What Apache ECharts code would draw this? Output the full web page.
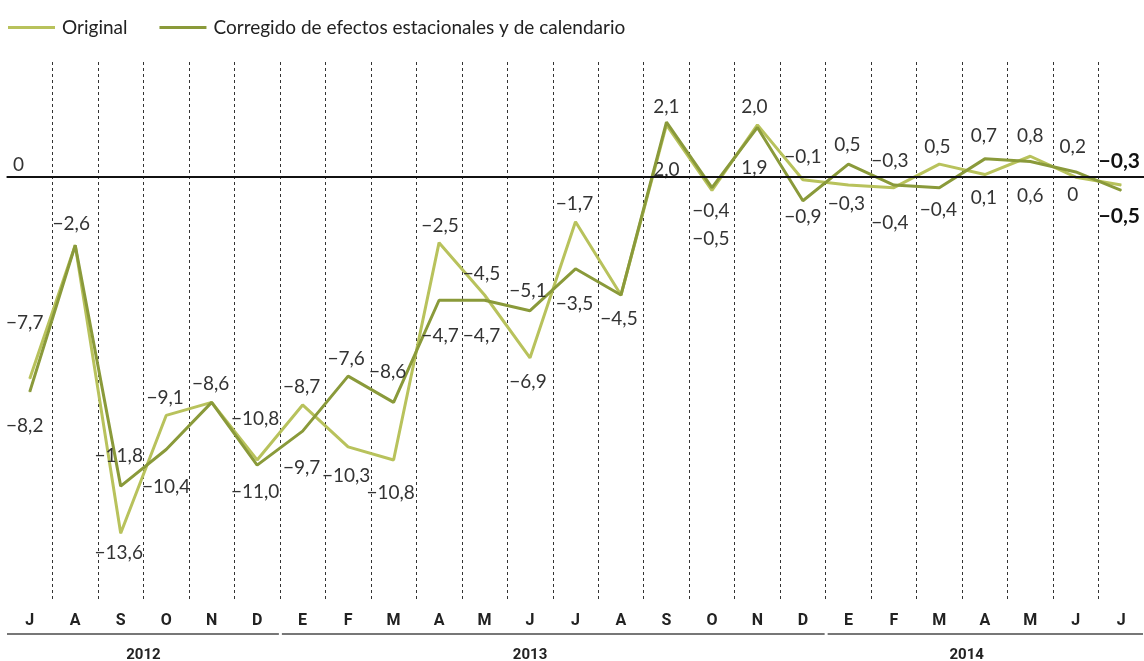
<!DOCTYPE html>
<html>
<head>
<meta charset="utf-8">
<script src="https://cdn.jsdelivr.net/npm/echarts@6/dist/echarts.min.js"></script>
<style>
html,body{margin:0;padding:0;background:#fff;}
#c{width:1144px;height:661px;}
</style>
</head>
<body>
<div id="c"></div>
<script>
// ---- data ----
const categories = ['Jul 2012','Ago 2012','Sep 2012','Oct 2012','Nov 2012','Dic 2012',
  'Ene 2013','Feb 2013','Mar 2013','Abr 2013','May 2013','Jun 2013','Jul 2013','Ago 2013','Sep 2013','Oct 2013','Nov 2013','Dic 2013',
  'Ene 2014','Feb 2014','Mar 2014','Abr 2014','May 2014','Jun 2014','Jul 2014'];
const monthLabels = ['J','A','S','O','N','D','E','F','M','A','M','J','J','A','S','O','N','D','E','F','M','A','M','J','J'];
const original  = [-7.7,-2.6,-13.6,-9.1,-8.6,-10.8,-8.7,-10.3,-10.8,-2.5,-4.5,-6.9,-1.7,-4.5,2.0,-0.5,2.0,-0.1,-0.3,-0.4,0.5,0.1,0.8,0,-0.3];
const corregido = [-8.2,-2.6,-11.8,-10.4,-8.6,-11.0,-9.7,-7.6,-8.6,-4.7,-4.7,-5.1,-3.5,-4.5,2.1,-0.4,1.9,-0.9,0.5,-0.3,-0.4,0.7,0.6,0.2,-0.5];
const years = ['2012','2013','2014'];
const yearSpans = [[0,5],[6,17],[18,24]];

// ---- layout / style (label offsets from point, px) ----
const origOffsets = [[-5,-56],[-4,-21],[-2,20],[-1,-18],[-1,-18],[-2,-41],[-1,-18],[-2,29],[-3,33],[1,-17],[-3,-21],[-2,24],[-1,-18],[-2,24],[0,45],[-1,49],[-3,-18],[0,-23],[-2,19],[-4,35],[-2,-17],[-1,23],[0,-20],[-3,18],[-2,-24]];
const corrOffsets = [[-5,34],null,[-2,-30],[0,37],null,[-2,27],[-1,37],[-2,-17],[-6,-30],[1,36],[-3,36],[-2,-20],[-1,35],null,[0,-15],[-1,23],[-3,40],[0,16],[-1,-19],[-4,-24],[-1,22],[-1,-23],[0,34],[-3,-25],[-2,26]];
const yearLabelAt = [2.5, 11, 20.6];

const LIGHT = '#b8c25c';
const DARK = '#8a9a3a';
const FONT = 'Lato, "Open Sans", sans-serif';

function fmt(v){
  if (v === 0) return '0';
  return (v < 0 ? '\u2212' : '') + Math.abs(v).toFixed(1).replace('.', ',');
}
function buildData(values, offsets){
  return values.map((v, i) => {
    const off = offsets[i];
    const last = i === values.length - 1;
    return {
      value: v,
      label: off ? {
        show: true, position: 'inside', offset: off,
        fontWeight: last ? 'bold' : 'normal',
        fontSize: last ? 21 : 19,
        color: last ? '#111' : '#333'
      } : { show: false }
    };
  });
}
const seriesLabel = {
  show: false, fontFamily: FONT,
  formatter: (p) => fmt(p.value)
};

const chart = echarts.init(document.getElementById('c'), null, {renderer: 'canvas'});
const option = {
  animation: false,
  backgroundColor: '#fff',
  textStyle: { fontFamily: FONT },
  legend: {
    left: 3, top: 13,
    icon: 'rect', itemWidth: 47, itemHeight: 3, itemGap: 32,
    data: ['Original', 'Corregido de efectos estacionales y de calendario'],
    textStyle: { fontSize: 19, color: '#222', fontFamily: FONT, padding: [0,0,0,2] }
  },
  grid: { left: 7, right: -3, top: 62, bottom: 61, containLabel: false },
  xAxis: {
    type: 'category',
    data: categories,
    boundaryGap: true,
    axisLine: { show: true, lineStyle: { color: '#777', width: 2 } },
    axisTick: { show: false },
    axisLabel: {
      margin: 13, fontSize: 16, fontWeight: 'bold', color: '#222', fontFamily: 'Roboto, sans-serif',
      formatter: (val, idx) => monthLabels[idx]
    },
    splitLine: {
      show: true,
      interval: (idx) => idx !== 0,
      lineStyle: { color: '#333', width: 1, type: [3, 3] }
    }
  },
  yAxis: {
    type: 'value', min: -16.15, max: 4.4,
    show: false, splitLine: { show: false }
  },
  series: [
    {
      type: 'line', name: 'zero', data: [], z: 1,
      markLine: {
        silent: true, symbol: 'none',
        data: [{ yAxis: 0 }],
        lineStyle: { color: '#111', width: 2, type: 'solid' },
        label: { show: true, position: 'insideStartTop', formatter: '0', fontSize: 19, color: '#333', fontFamily: FONT, distance: [6, 3] }
      }
    },
    {
      type: 'line', name: 'Original', z: 3,
      data: buildData(original, origOffsets),
      symbol: 'circle', symbolSize: 1, showSymbol: true,
      lineStyle: { color: LIGHT, width: 3 },
      itemStyle: { color: LIGHT },
      label: seriesLabel,
      emphasis: { disabled: true }
    },
    {
      type: 'line', name: 'Corregido de efectos estacionales y de calendario', z: 4,
      data: buildData(corregido, corrOffsets),
      symbol: 'circle', symbolSize: 1, showSymbol: true,
      lineStyle: { color: DARK, width: 3 },
      itemStyle: { color: DARK },
      label: seriesLabel,
      emphasis: { disabled: true }
    }
  ]
};
chart.setOption(option);

// year row below the month labels, positioned from the category axis
const c0 = chart.convertToPixel({ xAxisIndex: 0 }, 0);
const c1 = chart.convertToPixel({ xAxisIndex: 0 }, 1);
const band = c1 - c0;
const boundary = (i) => c0 + (i - 0.5) * band;
const lineY = 634;
const graphics = [];
yearSpans.forEach((s, k) => {
  const x1 = Math.max(boundary(s[0]) + (k === 0 ? 0 : 2), 7);
  const x2 = Math.min(boundary(s[1] + 1) - 1, 1144);
  graphics.push({
    type: 'line', silent: true,
    shape: { x1: x1, y1: lineY, x2: x2, y2: lineY },
    style: { stroke: '#777', lineWidth: 2 }
  });
  graphics.push({
    type: 'text', silent: true,
    x: c0 + yearLabelAt[k] * band, y: 655,
    style: { text: years[k], fill: '#222', font: 'bold 15px Roboto, sans-serif', align: 'center', verticalAlign: 'middle' }
  });
});
chart.setOption({ graphic: graphics });
</script>
</body>
</html>
